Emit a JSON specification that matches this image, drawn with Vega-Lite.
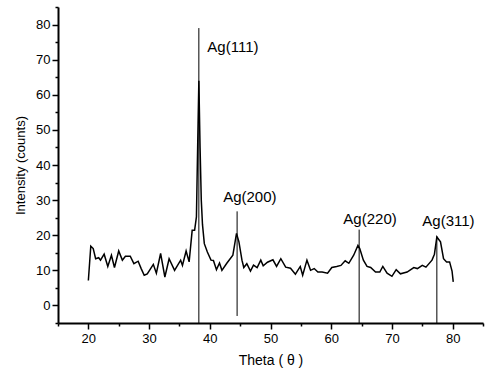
{
  "$schema": "https://vega.github.io/schema/vega-lite/v6.json",
  "width": 425,
  "height": 316,
  "autosize": "none",
  "padding": {"left": 58, "top": 7, "right": 6, "bottom": 51},
  "background": "white",
  "config": {"view": {"stroke": null}, "font": "Liberation Sans"},
  "datasets": {
    "xrd": [
      {"theta": 20.0, "counts": 7.1}, {"theta": 20.4, "counts": 16.9}, {"theta": 20.8, "counts": 16.2},
      {"theta": 21.2, "counts": 13.3}, {"theta": 21.7, "counts": 13.6}, {"theta": 22.0, "counts": 12.9},
      {"theta": 22.6, "counts": 14.6}, {"theta": 23.2, "counts": 11.1}, {"theta": 23.8, "counts": 14.3},
      {"theta": 24.3, "counts": 10.8}, {"theta": 25.0, "counts": 15.5}, {"theta": 25.6, "counts": 12.9},
      {"theta": 26.1, "counts": 14.0}, {"theta": 26.9, "counts": 14.0}, {"theta": 27.5, "counts": 11.9},
      {"theta": 28.2, "counts": 12.6}, {"theta": 28.7, "counts": 10.5}, {"theta": 29.2, "counts": 8.6},
      {"theta": 29.7, "counts": 9.0}, {"theta": 30.7, "counts": 11.7}, {"theta": 31.2, "counts": 9.2},
      {"theta": 31.9, "counts": 14.8}, {"theta": 32.6, "counts": 8.1}, {"theta": 33.3, "counts": 13.3},
      {"theta": 34.2, "counts": 10.0}, {"theta": 35.2, "counts": 12.9}, {"theta": 35.5, "counts": 11.4},
      {"theta": 36.1, "counts": 15.5}, {"theta": 36.6, "counts": 12.4}, {"theta": 37.1, "counts": 21.4},
      {"theta": 37.5, "counts": 21.4}, {"theta": 37.8, "counts": 25.2}, {"theta": 38.0, "counts": 45},
      {"theta": 38.2, "counts": 64}, {"theta": 38.4, "counts": 45}, {"theta": 38.6, "counts": 30},
      {"theta": 38.8, "counts": 23}, {"theta": 39.1, "counts": 17.6}, {"theta": 39.6, "counts": 15.2},
      {"theta": 40.2, "counts": 12.9}, {"theta": 40.6, "counts": 12.8}, {"theta": 41.1, "counts": 10.2},
      {"theta": 41.6, "counts": 12.1}, {"theta": 42.0, "counts": 10.0}, {"theta": 42.8, "counts": 12.0},
      {"theta": 43.8, "counts": 14.3}, {"theta": 44.4, "counts": 20.5}, {"theta": 44.8, "counts": 18.1},
      {"theta": 45.3, "counts": 12.9}, {"theta": 45.6, "counts": 10.8}, {"theta": 46.1, "counts": 11.9},
      {"theta": 46.7, "counts": 9.8}, {"theta": 47.2, "counts": 11.5}, {"theta": 47.8, "counts": 10.8},
      {"theta": 48.4, "counts": 12.9}, {"theta": 48.8, "counts": 11.3}, {"theta": 49.5, "counts": 12.3},
      {"theta": 50.4, "counts": 13.0}, {"theta": 51.0, "counts": 11.1}, {"theta": 51.7, "counts": 13.3},
      {"theta": 52.5, "counts": 10.9}, {"theta": 53.3, "counts": 10.6}, {"theta": 54.1, "counts": 8.9},
      {"theta": 54.9, "counts": 11.1}, {"theta": 55.3, "counts": 8.6}, {"theta": 56.0, "counts": 12.9},
      {"theta": 56.6, "counts": 10.0}, {"theta": 57.2, "counts": 10.5}, {"theta": 57.8, "counts": 9.5},
      {"theta": 58.5, "counts": 9.5}, {"theta": 59.4, "counts": 9.2}, {"theta": 60.1, "counts": 10.8},
      {"theta": 60.9, "counts": 11.1}, {"theta": 61.6, "counts": 11.4}, {"theta": 62.3, "counts": 12.7},
      {"theta": 62.9, "counts": 12.0}, {"theta": 63.7, "counts": 14.3}, {"theta": 64.4, "counts": 17.1},
      {"theta": 64.7, "counts": 16.2}, {"theta": 65.3, "counts": 12.9}, {"theta": 65.9, "counts": 11.1},
      {"theta": 66.5, "counts": 10.8}, {"theta": 67.3, "counts": 9.5}, {"theta": 68.0, "counts": 9.5},
      {"theta": 68.5, "counts": 11.1}, {"theta": 69.2, "counts": 9.2}, {"theta": 70.0, "counts": 8.3},
      {"theta": 70.7, "counts": 10.2}, {"theta": 71.4, "counts": 9.0}, {"theta": 72.5, "counts": 9.5},
      {"theta": 73.6, "counts": 10.8}, {"theta": 74.2, "counts": 10.5}, {"theta": 75.0, "counts": 11.4},
      {"theta": 75.6, "counts": 10.9}, {"theta": 76.6, "counts": 12.9}, {"theta": 77.0, "counts": 14.6},
      {"theta": 77.4, "counts": 19.5}, {"theta": 78.0, "counts": 18.1}, {"theta": 78.5, "counts": 13.3},
      {"theta": 79.0, "counts": 12.4}, {"theta": 79.5, "counts": 12.4}, {"theta": 79.9, "counts": 9.8},
      {"theta": 80.1, "counts": 6.7}
    ],
    "peaks": [
      {"hkl": "Ag(111)", "theta": 38.2, "bottom": -5, "top": 79, "labelTheta": 39.6, "labelY": 73.6},
      {"hkl": "Ag(200)", "theta": 44.5, "bottom": -3, "top": 26.8, "labelTheta": 42.2, "labelY": 30.8},
      {"hkl": "Ag(220)", "theta": 64.6, "bottom": -5, "top": 21.6, "labelTheta": 62.0, "labelY": 24.5},
      {"hkl": "Ag(311)", "theta": 77.4, "bottom": -5, "top": 19.7, "labelTheta": 75.0, "labelY": 24.0}
    ]
  },
  "resolve": {"axis": {"x": "independent", "y": "independent"}},
  "layer": [
    {
      "data": {"name": "xrd"},
      "mark": {"type": "line", "color": "black", "strokeWidth": 1.5},
      "encoding": {
        "x": {
          "field": "theta", "type": "quantitative",
          "scale": {"domain": [15, 85], "nice": false, "zero": false},
          "axis": {
            "orient": "bottom",
            "title": "Theta ( θ )",
            "values": [20, 30, 40, 50, 60, 70, 80],
            "grid": false,
            "domainColor": "black", "domainWidth": 2,
            "tickColor": "black", "tickWidth": 1.5, "tickSize": 6,
            "labelFontSize": 13, "labelColor": "black", "labelPadding": 3,
            "labelOverlap": false, "labelFlush": false,
            "titleFontSize": 14, "titleFontWeight": "normal", "titleColor": "black", "titlePadding": 8
          }
        },
        "y": {
          "field": "counts", "type": "quantitative",
          "scale": {"domain": [-5, 85], "nice": false, "zero": false},
          "axis": {
            "orient": "left",
            "title": "Intensity (counts)",
            "values": [0, 10, 20, 30, 40, 50, 60, 70, 80],
            "grid": false,
            "domainColor": "black", "domainWidth": 2,
            "tickColor": "black", "tickWidth": 1.5, "tickSize": 6,
            "labelFontSize": 13, "labelColor": "black", "labelPadding": 2,
            "labelOverlap": false, "labelFlush": false,
            "titleFontSize": 13, "titleFontWeight": "normal", "titleColor": "black", "titlePadding": 8
          }
        }
      }
    },
    {
      "data": {"name": "peaks"},
      "mark": {"type": "rule", "color": "black", "strokeWidth": 1},
      "encoding": {
        "x": {
          "field": "theta", "type": "quantitative",
          "axis": {
            "orient": "bottom", "title": null, "labels": false, "domain": false, "grid": false,
            "values": [15, 25, 35, 45, 55, 65, 75, 85],
            "tickColor": "black", "tickWidth": 1.5, "tickSize": 3
          }
        },
        "y": {
          "field": "bottom", "type": "quantitative",
          "axis": {
            "orient": "left", "title": null, "labels": false, "domain": false, "grid": false,
            "values": [-5, 5, 15, 25, 35, 45, 55, 65, 75, 85],
            "tickColor": "black", "tickWidth": 1.5, "tickSize": 3
          }
        },
        "y2": {"field": "top"}
      }
    },
    {
      "data": {"name": "peaks"},
      "mark": {"type": "text", "align": "left", "baseline": "middle", "fontSize": 15, "color": "black"},
      "encoding": {
        "x": {"field": "labelTheta", "type": "quantitative", "axis": null},
        "y": {"field": "labelY", "type": "quantitative", "axis": null},
        "text": {"field": "hkl"}
      }
    }
  ]
}
